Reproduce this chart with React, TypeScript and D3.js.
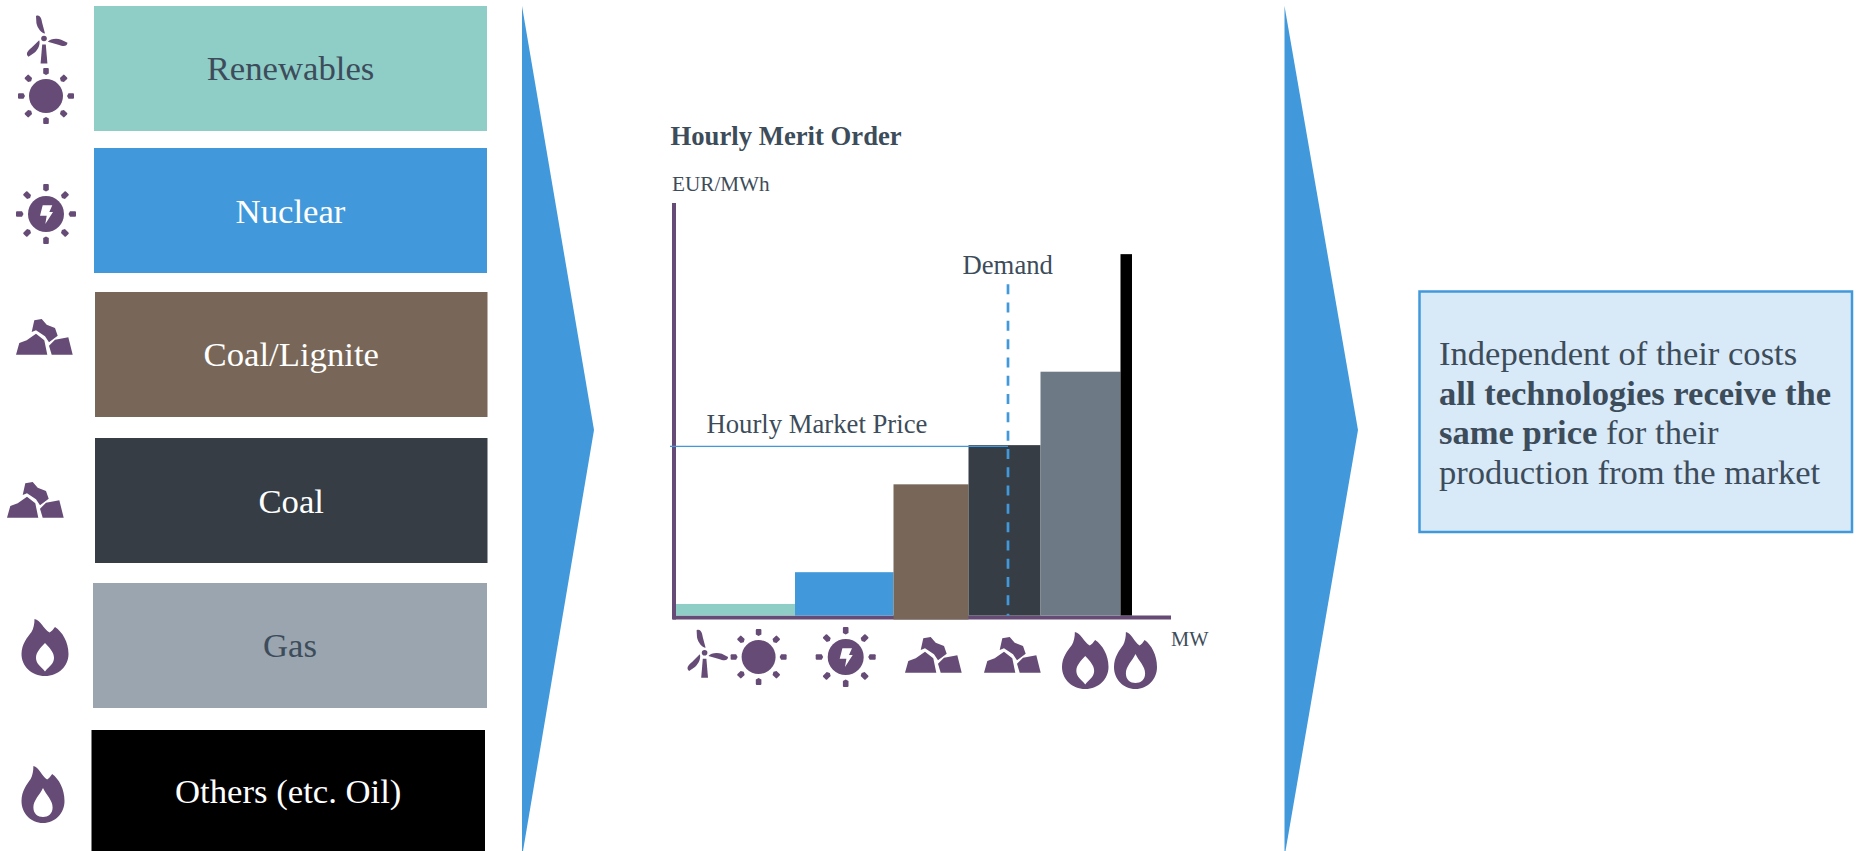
import React from "react";
import * as d3 from "d3";

// Technologies in merit order, cheapest first
const technologies = ["Renewables", "Nuclear", "Coal/Lignite", "Coal", "Gas", "Others (etc. Oil)"];
// Cumulative capacity at the right edge of each block (share of axis)
const cumulativeCapacity = [23.8, 43.5, 58.5, 72.9, 88.9, 91.2];
// Marginal cost of each block (share of axis)
const marginalCost = [2.8, 10.5, 31.8, 41.3, 59.1, 87.6];
const marketPrice = 41;
const demandLevel = 66.4;
const demandTop = 80.3;

const PURPLE = "#654b75";
const BLUE = "#4199dc";
const INK = "#3d4c5a";
const panelFill = ["#8fcdc7", "#4199dc", "#786758", "#363d45", "#9aa5af", "#000000"];
const panelInk = [INK, "#ffffff", "#ffffff", "#ffffff", INK, "#ffffff"];
const barFill = ["#8fcdc7", "#4199dc", "#786758", "#363d45", "#6d7a86", "#000000"];
const panelX = [94, 94, 95, 95, 93, 91.5];
const panelRight = [487, 487, 487.5, 487.5, 487, 485];
const panelTop = [6, 148, 292, 438, 583, 730];
const panelBottom = [131, 273, 417, 563, 708, 851];
const panelBaseline = [80, 223, 366, 513, 657, 803];

const SERIF = "'Liberation Serif', 'Times New Roman', serif";

const x = d3.scaleLinear().domain([0, 100]).range([676, 1176]);
const y = d3.scaleLinear().domain([0, 100]).range([615.5, 203]);

const Turbine = ({ cx, cy }: { cx: number; cy: number }) => (
  <g transform={`translate(${cx},${cy})`} fill={PURPLE}>
    <circle r={2.8} />
    {[0, 120, 240].map((a) => (
      <path
        key={a}
        transform={`rotate(${a})`}
        d="M-8-22.5C-4.5-24-2.6-21-1.8-15.5L1-5C-2.5-5.5-6.5-10-7.6-15.5Z"
      />
    ))}
    <path d="M-1.8 6L1.8 6L3.4 25L-3.4 25Z" />
  </g>
);

const Rays = ({ inner, outer }: { inner: number; outer: number }) => (
  <>
    {d3.range(8).map((i) => (
      <path
        key={i}
        transform={`rotate(${i * 45})`}
        d={`M-2.8 ${-outer + 1}Q-2.8 ${-outer} -1.8 ${-outer}L1.8 ${-outer}Q2.8 ${-outer} 2.8 ${-outer + 1}L2.8 ${-inner - 1.5}L0 ${-inner}L-2.8 ${-inner - 1.5}Z`}
      />
    ))}
  </>
);

const Sun = ({ cx, cy }: { cx: number; cy: number }) => (
  <g transform={`translate(${cx},${cy})`} fill={PURPLE}>
    <circle r={17} />
    <Rays inner={21} outer={28} />
  </g>
);

const PowerSun = ({ cx, cy }: { cx: number; cy: number }) => (
  <g transform={`translate(${cx},${cy})`} fill={PURPLE}>
    <circle r={18} />
    <Rays inner={22.5} outer={30} />
    <path d="M-3.3-8.7L6.3-8.7L3.3-2L7-2L-.7 10L.7 1.7L-6 1.7Z" fill="#fff" />
  </g>
);

const Rock = ({ px, py }: { px: number; py: number }) => (
  <g transform={`translate(${px},${py})`} fill={PURPLE}>
    <path d="M18.3 1.3L25.7 0L30.7 5.7L39 9L41.7 16.7L33 23.3L29 17.3L20 11.3L15.7 13Z" />
    <path d="M0 35.7L3.3 24L10.7 21.3L20 14.7L28.3 21.3L31.3 35.7Z" />
    <path d="M35.7 35.7L33 26.7L39 20.7L52.3 18.3L56.7 35.7Z" />
  </g>
);

const FLAME =
  "M13 0C19 1 22 10 28 13.5C30 12.5 32 10 33.5 8C41 13 47 23 47 35C47 47 37 57 23.5 57C10 57 0 47 0 35C0 25 6 18 10 13C12 9.5 13 5 13 0Z";
const LEAF = "M23.5 24C28 29 32.5 33 32.5 39C32.5 45 27 48 23.5 52.5C20 48 14.5 45 14.5 39C14.5 33 19 29 23.5 24Z";
const DROP = "M23.5 22C27 29 34 34 34 41.5C34 48 29 51 23.5 51C18 51 13 48 13 41.5C13 34 20 29 23.5 22Z";

const Flame = ({ px, py, w, h, inner }: { px: number; py: number; w: number; h: number; inner: string }) => (
  <g transform={`translate(${px},${py}) scale(${w / 47},${h / 57})`}>
    <path d={FLAME} fill={PURPLE} />
    <path d={inner} fill="#fff" />
  </g>
);

const Arrow = ({ left, tip }: { left: number; tip: number }) => (
  <path d={`M${left} 6L${tip} 430L${left + 1} 851L${left} 851Z`} fill={BLUE} />
);

export default function App() {
  const edges = [0, ...cumulativeCapacity];
  return (
    <svg
      width={1858}
      height={851}
      viewBox="0 0 1858 851"
      style={{ position: "absolute", left: 0, top: 0, display: "block" }}
      fontFamily={SERIF}
    >
      <rect width={1858} height={851} fill="#fff" />

      {/* Technology list */}
      {technologies.map((t, i) => (
        <g key={t}>
          <rect
            x={panelX[i]}
            y={panelTop[i]}
            width={panelRight[i] - panelX[i]}
            height={panelBottom[i] - panelTop[i]}
            fill={panelFill[i]}
          />
          <text
            x={(panelX[i] + panelRight[i]) / 2}
            y={panelBaseline[i]}
            textAnchor="middle"
            fontSize={34.7}
            fill={panelInk[i]}
          >
            {t}
          </text>
        </g>
      ))}
      <Turbine cx={44} cy={38.5} />
      <Sun cx={46} cy={96} />
      <PowerSun cx={46} cy={214} />
      <Rock px={16} py={319} />
      <Rock px={7} py={482} />
      <Flame px={21.5} py={619} w={47} h={57} inner={LEAF} />
      <Flame px={21.5} py={766} w={43} h={57} inner={DROP} />

      <Arrow left={522} tip={594} />
      <Arrow left={1284.5} tip={1358} />

      {/* Merit order chart */}
      <text x={670.5} y={145} fontSize={26.7} fontWeight="bold" fill={INK}>
        Hourly Merit Order
      </text>
      <text x={672} y={191} fontSize={21.2} fill={INK}>
        EUR/MWh
      </text>
      <rect x={672} y={y(100)} width={4} height={y(0) - y(100) + 4} fill={PURPLE} />
      <rect x={673} y={y(0)} width={x(99) - 673} height={4} fill={PURPLE} />

      {technologies.map((t, i) => {
        // The third block runs slightly over the axis line
        const overlap = i === 2 ? 4 : 0;
        return (
          <rect
            key={t}
            x={x(edges[i])}
            y={y(marginalCost[i])}
            width={x(edges[i + 1]) - x(edges[i])}
            height={y(0) - y(marginalCost[i]) + overlap}
            fill={barFill[i]}
          />
        );
      })}

      <line
        x1={670}
        x2={x(demandLevel)}
        y1={y(marketPrice)}
        y2={y(marketPrice)}
        stroke={BLUE}
        strokeWidth={1.3}
      />
      <line
        x1={x(demandLevel)}
        x2={x(demandLevel)}
        y1={y(demandTop)}
        y2={y(0)}
        stroke={BLUE}
        strokeWidth={2.7}
        strokeDasharray="10 8.3"
      />
      <text x={962.5} y={274} fontSize={26.7} fill={INK}>
        Demand
      </text>
      <text x={706.5} y={433} fontSize={26.7} fill={INK}>
        Hourly Market Price
      </text>
      <text x={1171} y={646} fontSize={20.4} fill={INK}>
        MW
      </text>

      <Turbine cx={704.6} cy={652.7} />
      <Sun cx={758.6} cy={657} />
      <PowerSun cx={845.7} cy={657} />
      <Rock px={905} py={637} />
      <Rock px={984} py={637} />
      <Flame px={1062} py={632} w={46.5} h={57} inner={LEAF} />
      <Flame px={1114} py={632} w={43} h={57} inner={DROP} />

      {/* Takeaway box */}
      <rect x={1419.5} y={291.5} width={432.5} height={240.5} fill="#d8e9f8" stroke={BLUE} strokeWidth={2.5} />
      <g fontSize={34.6} fill={INK}>
        <text x={1439} y={365}>Independent of their costs</text>
        <text x={1439} y={405}>
          <tspan fontWeight="bold">all technologies receive the</tspan>
        </text>
        <text x={1439} y={443.5}>
          <tspan fontWeight="bold">same price</tspan> for their
        </text>
        <text x={1439} y={483.5}>production from the market</text>
      </g>
    </svg>
  );
}
